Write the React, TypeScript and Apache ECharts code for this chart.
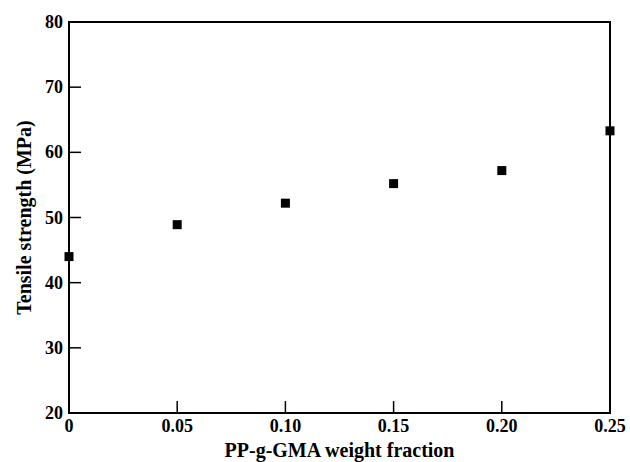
import React, { useEffect, useRef } from "react";
import * as echarts from "echarts";

const fractions = [0, 0.05, 0.1, 0.15, 0.2, 0.25];
const tensile = [44.0, 48.9, 52.2, 55.2, 57.2, 63.3];
const xTickLabels = ["0", "0.05", "0.10", "0.15", "0.20", "0.25"];
const yTickLabels = ["20", "30", "40", "50", "60", "70", "80"];

export default function App() {
  const ref = useRef<HTMLDivElement>(null);
  useEffect(() => {
    if (!ref.current) return;
    const chart = echarts.init(ref.current, undefined, { renderer: "svg" });
    const font = "'Liberation Serif', 'DejaVu Serif', serif";
    const xMin = Number(xTickLabels[0]);
    const xMax = Number(xTickLabels[xTickLabels.length - 1]);
    const yMin = Number(yTickLabels[0]);
    const yMax = Number(yTickLabels[yTickLabels.length - 1]);
    const xTickVals = xTickLabels.slice(1, -1).map(Number);
    const yTickVals = yTickLabels.slice(1, -1).map(Number);
    const TICK = 12;
    chart.setOption({
      animation: false,
      backgroundColor: "#fff",
      grid: {
        left: 69,
        right: 20,
        top: 22,
        bottom: 49,
        show: true,
        borderColor: "#000",
        borderWidth: 2,
        containLabel: false,
        outerBoundsMode: "none",
      },
      xAxis: {
        type: "value",
        min: xMin,
        max: xMax,
        interval: 0.05,
        name: "PP-g-GMA weight fraction",
        nameLocation: "middle",
        nameGap: 26,
        nameTextStyle: { fontFamily: font, fontSize: 20, fontWeight: "bold", color: "#000" },
        axisLine: { show: true, onZero: false, lineStyle: { color: "#000", width: 2 } },
        axisTick: { show: false },
        axisLabel: {
          fontFamily: font,
          fontSize: 18,
          fontWeight: "bold",
          color: "#000",
          margin: 4,
          formatter: (v: number) => {
            const i = Math.round(v / 0.05);
            return xTickLabels[i] ?? "";
          },
        },
        splitLine: { show: false },
      },
      yAxis: {
        type: "value",
        min: yMin,
        max: yMax,
        interval: 10,
        name: "Tensile strength (MPa)",
        nameLocation: "middle",
        nameGap: 35,
        nameTextStyle: { fontFamily: font, fontSize: 20, fontWeight: "bold", color: "#000" },
        axisLine: { show: true, onZero: false, lineStyle: { color: "#000", width: 2 } },
        axisTick: { show: false },
        axisLabel: {
          fontFamily: font,
          fontSize: 18,
          fontWeight: "bold",
          color: "#000",
          margin: 6,
          formatter: (v: number) => {
            const i = Math.round((v - 20) / 10);
            return yTickLabels[i] ?? "";
          },
        },
        splitLine: { show: false },
      },
      series: [
        {
          type: "scatter",
          data: fractions.map((f, i) => [f, tensile[i]]),
          symbol: "rect",
          symbolSize: 9,
          itemStyle: { color: "#000", opacity: 1 },
          clip: false,
          z: 10,
        },
      ],
    });

    const ticks: any[] = [];
    xTickVals.forEach((v) => {
      const p = chart.convertToPixel({ gridIndex: 0 }, [v, yMin]) as number[];
      ticks.push({
        type: "line",
        z: 100,
        silent: true,
        shape: { x1: p[0], y1: p[1], x2: p[0], y2: p[1] - TICK },
        style: { stroke: "#000", lineWidth: 1.5 },
      });
    });
    yTickVals.forEach((v) => {
      const p = chart.convertToPixel({ gridIndex: 0 }, [xMin, v]) as number[];
      ticks.push({
        type: "line",
        z: 100,
        silent: true,
        shape: { x1: p[0], y1: p[1], x2: p[0] + TICK, y2: p[1] },
        style: { stroke: "#000", lineWidth: 1.5 },
      });
    });
    chart.setOption({ graphic: ticks });

    return () => chart.dispose();
  }, []);
  return <div ref={ref} style={{ width: 630, height: 462, position: "absolute", left: 0, top: 0 }} />;
}
